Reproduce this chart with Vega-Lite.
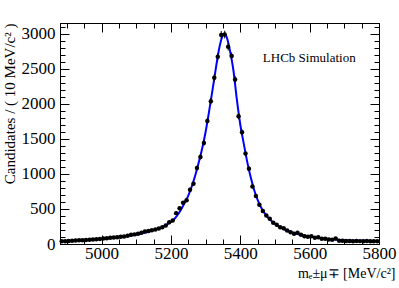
{
  "$schema": "https://vega.github.io/schema/vega-lite/v6.json",
  "width": 319,
  "height": 221,
  "autosize": {"type": "none"},
  "padding": {"left": 60, "top": 23, "right": 20, "bottom": 44},
  "background": "white",
  "config": {
    "view": {"stroke": "black", "strokeWidth": 1},
    "axis": {"domainColor": "black", "tickColor": "black", "labelColor": "black", "titleColor": "black", "labelFont": "Liberation Serif", "titleFont": "Liberation Serif", "grid": false, "titleFontWeight": "normal", "labelOverlap": false, "labelFlush": false, "tickWidth": 1, "domainWidth": 1, "ticks": true}
  },
  "datasets": {
    "pts": [
      {"m":4885,"n":38,"e":6},{"m":4895,"n":40,"e":6},{"m":4905,"n":44,"e":7},{"m":4915,"n":46,"e":7},{"m":4925,"n":50,"e":7},{"m":4935,"n":52,"e":7},{"m":4945,"n":55,"e":7},{"m":4955,"n":57,"e":8},{"m":4965,"n":60,"e":8},{"m":4975,"n":64,"e":8},
      {"m":4985,"n":67,"e":8},{"m":4995,"n":72,"e":8},{"m":5005,"n":78,"e":9},{"m":5015,"n":82,"e":9},{"m":5025,"n":88,"e":9},{"m":5035,"n":93,"e":10},{"m":5045,"n":97,"e":10},{"m":5055,"n":103,"e":10},{"m":5065,"n":108,"e":10},{"m":5075,"n":118,"e":11},
      {"m":5085,"n":132,"e":11},{"m":5095,"n":137,"e":12},{"m":5105,"n":146,"e":12},{"m":5115,"n":160,"e":13},{"m":5125,"n":178,"e":13},{"m":5135,"n":186,"e":14},{"m":5145,"n":195,"e":14},{"m":5155,"n":207,"e":14},{"m":5165,"n":222,"e":15},{"m":5175,"n":240,"e":15},
      {"m":5185,"n":264,"e":16},{"m":5195,"n":310,"e":18},{"m":5205,"n":336,"e":18},{"m":5215,"n":440,"e":21},{"m":5225,"n":511,"e":23},{"m":5235,"n":589,"e":24},{"m":5245,"n":625,"e":25},{"m":5255,"n":774,"e":28},{"m":5265,"n":860,"e":29},{"m":5275,"n":1083,"e":33},
      {"m":5285,"n":1240,"e":35},{"m":5295,"n":1440,"e":38},{"m":5305,"n":1754,"e":42},{"m":5315,"n":2036,"e":45},{"m":5325,"n":2369,"e":49},{"m":5335,"n":2669,"e":52},{"m":5345,"n":2980,"e":55},{"m":5355,"n":2985,"e":55},{"m":5365,"n":2811,"e":53},{"m":5375,"n":2679,"e":52},
      {"m":5385,"n":2346,"e":48},{"m":5395,"n":1821,"e":43},{"m":5405,"n":1593,"e":40},{"m":5415,"n":1289,"e":36},{"m":5425,"n":1074,"e":33},{"m":5435,"n":821,"e":29},{"m":5445,"n":683,"e":26},{"m":5455,"n":560,"e":24},{"m":5465,"n":470,"e":22},{"m":5475,"n":405,"e":20},
      {"m":5485,"n":360,"e":19},{"m":5495,"n":303,"e":17},{"m":5505,"n":274,"e":17},{"m":5515,"n":240,"e":15},{"m":5525,"n":226,"e":15},{"m":5535,"n":193,"e":14},{"m":5545,"n":169,"e":13},{"m":5555,"n":146,"e":12},{"m":5565,"n":160,"e":13},{"m":5575,"n":131,"e":11},
      {"m":5585,"n":111,"e":11},{"m":5595,"n":103,"e":10},{"m":5605,"n":111,"e":11},{"m":5615,"n":89,"e":9},{"m":5625,"n":97,"e":10},{"m":5635,"n":74,"e":9},{"m":5645,"n":74,"e":9},{"m":5655,"n":64,"e":8},{"m":5665,"n":60,"e":8},{"m":5675,"n":79,"e":9},
      {"m":5685,"n":46,"e":7},{"m":5695,"n":46,"e":7},{"m":5705,"n":42,"e":6},{"m":5715,"n":44,"e":7},{"m":5725,"n":40,"e":6},{"m":5735,"n":43,"e":7},{"m":5745,"n":41,"e":6},{"m":5755,"n":39,"e":6},{"m":5765,"n":42,"e":6},{"m":5775,"n":40,"e":6},
      {"m":5785,"n":38,"e":6},{"m":5795,"n":40,"e":6}
    ],
    "fit": [
      {"m":4880,"f":38},{"m":4900,"f":42},{"m":4920,"f":47},{"m":4940,"f":52},{"m":4960,"f":58},{"m":4980,"f":65},{"m":5000,"f":73},{"m":5020,"f":82},{"m":5040,"f":92},{"m":5060,"f":104},
      {"m":5080,"f":118},{"m":5100,"f":135},{"m":5120,"f":156},{"m":5140,"f":182},{"m":5160,"f":214},{"m":5180,"f":255},{"m":5190,"f":282},{"m":5200,"f":315},{"m":5210,"f":357},{"m":5220,"f":420},
      {"m":5230,"f":500},{"m":5240,"f":590},{"m":5250,"f":690},{"m":5260,"f":820},{"m":5270,"f":975},{"m":5280,"f":1160},{"m":5290,"f":1360},{"m":5300,"f":1600},{"m":5310,"f":1890},{"m":5320,"f":2200},
      {"m":5330,"f":2520},{"m":5340,"f":2810},{"m":5350,"f":2975},{"m":5355,"f":2995},{"m":5360,"f":2960},{"m":5370,"f":2760},{"m":5380,"f":2480},{"m":5390,"f":2060},{"m":5400,"f":1700},{"m":5410,"f":1430},
      {"m":5420,"f":1170},{"m":5430,"f":950},{"m":5440,"f":770},{"m":5450,"f":630},{"m":5460,"f":520},{"m":5470,"f":440},{"m":5480,"f":378},{"m":5490,"f":328},{"m":5500,"f":288},{"m":5520,"f":228},
      {"m":5540,"f":183},{"m":5560,"f":150},{"m":5580,"f":124},{"m":5600,"f":105},{"m":5620,"f":90},{"m":5640,"f":78},{"m":5660,"f":69},{"m":5680,"f":61},{"m":5700,"f":55},{"m":5720,"f":51},
      {"m":5740,"f":48},{"m":5760,"f":45},{"m":5780,"f":43},{"m":5800,"f":42}
    ],
    "lab": [{"x":5465,"y":2650,"t":"LHCb Simulation"}]
  },
  "layer": [
    {
      "data": {"name": "fit"},
      "mark": {"type": "line", "color": "#0000ff", "strokeWidth": 2, "interpolate": "monotone"},
      "encoding": {
        "x": {"field": "m", "type": "quantitative", "scale": {"domain": [4880, 5800], "nice": false, "zero": false},
          "axis": {"orient": "bottom", "values": [4900,4950,5000,5050,5100,5150,5200,5250,5300,5350,5400,5450,5500,5550,5600,5650,5700,5750,5800],
            "format": "d", "labelExpr": "datum.value % 200 === 0 ? datum.label : ''",
            "tickSize": {"condition": {"test": "datum.value % 200 === 0", "value": -9}, "value": -5},
            "labelFontSize": 17, "labelPadding": 10,
            "title": "mₑ±μ∓ [MeV/c²]", "titleFontSize": 14, "titleAnchor": "end", "titleAlign": "right", "titleX": 335, "titleY": 33, "titleBaseline": "alphabetic"}},
        "y": {"field": "f", "type": "quantitative", "scale": {"domain": [0, 3150], "nice": false},
          "axis": {"orient": "left", "values": [0,100,200,300,400,500,600,700,800,900,1000,1100,1200,1300,1400,1500,1600,1700,1800,1900,2000,2100,2200,2300,2400,2500,2600,2700,2800,2900,3000,3100],
            "format": "d", "labelExpr": "datum.value % 500 === 0 ? datum.label : ''",
            "tickSize": {"condition": {"test": "datum.value % 500 === 0", "value": -9}, "value": -5},
            "labelFontSize": 17, "labelPadding": 14,
            "title": "Candidates / ( 10 MeV/c² )", "titleFontSize": 15, "titleAnchor": "end", "titleAlign": "right", "titleAngle": -90, "titleX": -46, "titleY": 0, "titleBaseline": "alphabetic"}}
      }
    },
    {
      "data": {"name": "pts"},
      "mark": {"type": "errorbar", "color": "black", "thickness": 1},
      "encoding": {
        "x": {"field": "m", "type": "quantitative",
          "axis": {"orient": "top", "values": [4900,4950,5000,5050,5100,5150,5200,5250,5300,5350,5400,5450,5500,5550,5600,5650,5700,5750,5800],
            "labels": false, "title": null,
            "tickSize": {"condition": {"test": "datum.value % 200 === 0", "value": -9}, "value": -5}}},
        "y": {"field": "n", "type": "quantitative",
          "axis": {"orient": "right", "values": [0,100,200,300,400,500,600,700,800,900,1000,1100,1200,1300,1400,1500,1600,1700,1800,1900,2000,2100,2200,2300,2400,2500,2600,2700,2800,2900,3000,3100],
            "labels": false, "title": null,
            "tickSize": {"condition": {"test": "datum.value % 500 === 0", "value": -9}, "value": -5}}},
        "yError": {"field": "e"}
      }
    },
    {
      "data": {"name": "pts"},
      "mark": {"type": "tick", "orient": "horizontal", "color": "black", "size": 3.5, "thickness": 1},
      "encoding": {
        "x": {"field": "m", "type": "quantitative", "axis": null},
        "y": {"field": "n", "type": "quantitative", "axis": null}
      }
    },
    {
      "data": {"name": "pts"},
      "mark": {"type": "circle", "color": "black", "size": 20, "opacity": 1},
      "encoding": {
        "x": {"field": "m", "type": "quantitative", "axis": null},
        "y": {"field": "n", "type": "quantitative", "axis": null}
      }
    },
    {
      "data": {"name": "lab"},
      "mark": {"type": "text", "align": "left", "baseline": "middle", "font": "Liberation Serif", "fontSize": 13, "color": "black"},
      "encoding": {
        "x": {"field": "x", "type": "quantitative", "axis": null},
        "y": {"field": "y", "type": "quantitative", "axis": null},
        "text": {"field": "t"}
      }
    }
  ],
  "resolve": {"axis": {"x": "independent", "y": "independent"}}
}
